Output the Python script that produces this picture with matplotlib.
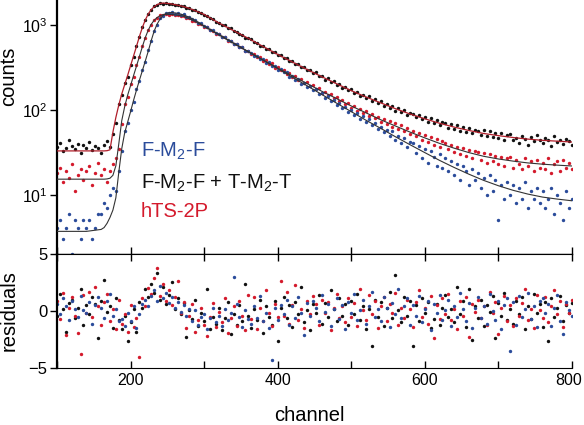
import numpy as np
import matplotlib
matplotlib.use('Agg')
import matplotlib.pyplot as plt
import matplotlib.transforms as mtransforms
from matplotlib.ticker import NullLocator, MultipleLocator, FixedLocator

plt.rcParams['font.family'] = ['Liberation Sans', 'DejaVu Sans']
plt.rcParams['mathtext.default'] = 'regular'

# data, every 4th channel (100..800)
channel = np.arange(100, 801, 4)

counts_blue = [
    4, 5, 3, 4, 6, 2, 5, 4, 3, 5, 4,
    5, 3, 4, 6, 6, 8, 7, 10, 12, 11, 19,
    33, 57, 70, 101, 124, 178, 219, 301, 371, 508, 648,
    871, 1019, 1214, 1296, 1402, 1391, 1447, 1384, 1418, 1342, 1351,
    1266, 1271, 1180, 1162, 1071, 1060, 975, 962, 890, 880, 811,
    798, 738, 731, 670, 664, 606, 603, 556, 551, 504, 498,
    478, 437, 441, 398, 402, 365, 368, 331, 336, 302, 304,
    279, 280, 249, 252, 228, 233, 206, 211, 189, 193, 172,
    176, 155, 158, 141, 146, 128, 131, 115, 122, 105, 110,
    95, 101, 87, 93, 79, 85, 72, 78, 66, 71, 60,
    64, 55, 59, 50, 56, 45, 50, 41, 47, 37, 42,
    41, 31, 38, 27, 35, 24, 33, 28, 22, 30, 21,
    27, 19, 25, 17, 23, 15, 22, 19, 13, 20, 15,
    18, 12, 16, 10, 17, 11, 15, 5, 13, 9, 14,
    10, 13, 8, 12, 9, 14, 7, 11, 9, 12, 8,
    11, 7, 9, 12, 6, 10, 8, 5, 11, 7, 9]

counts_black = [
    37, 41, 33, 36, 44, 38, 35, 40, 31, 39, 36,
    42, 34, 38, 36, 31, 39, 43, 37, 52, 70, 118,
    150, 209, 248, 342, 428, 578, 731, 962, 1148, 1380, 1521,
    1690, 1742, 1851, 1818, 1862, 1795, 1806, 1741, 1758, 1689, 1684,
    1611, 1602, 1518, 1509, 1428, 1412, 1331, 1310, 1221, 1196, 1108,
    1082, 1012, 1003, 931, 925, 851, 846, 788, 782, 721, 716,
    690, 636, 628, 580, 574, 531, 530, 488, 485, 448, 446,
    410, 412, 376, 379, 347, 351, 321, 323, 295, 299, 272,
    281, 250, 255, 230, 238, 214, 221, 200, 206, 183, 189,
    171, 176, 158, 165, 148, 153, 139, 145, 128, 136, 121,
    127, 113, 119, 105, 112, 99, 106, 94, 101, 88, 93,
    91, 82, 88, 78, 84, 73, 80, 70, 76, 66, 72,
    71, 62, 69, 60, 66, 57, 64, 55, 61, 53, 59,
    57, 51, 58, 49, 56, 48, 54, 47, 53, 45, 51,
    52, 44, 47, 41, 50, 46, 39, 48, 43, 51, 45,
    41, 47, 44, 38, 49, 42, 45, 40, 46, 43, 39]

counts_red = [
    18, 21, 14, 19, 16, 23, 11, 17, 20, 15, 19,
    22, 13, 18, 24, 17, 20, 14, 19, 23, 27, 35,
    68, 118, 142, 203, 249, 341, 422, 571, 708, 893, 1017,
    1168, 1221, 1318, 1329, 1371, 1340, 1362, 1318, 1337, 1291, 1302,
    1229, 1215, 1139, 1127, 1046, 1038, 958, 949, 876, 868, 799,
    790, 728, 723, 664, 660, 601, 604, 551, 553, 502, 501,
    462, 463, 420, 425, 381, 389, 350, 356, 318, 325, 294,
    298, 270, 274, 246, 252, 228, 232, 209, 214, 192, 196,
    176, 181, 160, 166, 149, 155, 138, 142, 127, 130, 118,
    121, 107, 113, 99, 104, 93, 98, 86, 91, 80, 84,
    73, 79, 69, 75, 64, 70, 60, 66, 56, 61, 52,
    57, 49, 54, 45, 51, 42, 48, 39, 46, 37, 43,
    41, 35, 39, 32, 37, 30, 36, 29, 34, 27, 33,
    32, 26, 31, 24, 30, 25, 29, 23, 28, 22, 27,
    28, 21, 26, 23, 20, 27, 22, 25, 19, 26, 21,
    24, 20, 27, 18, 23, 25, 19, 26, 21, 24, 20]

# fitted curves
fit_ch = [100, 140, 160, 164, 168, 172, 176, 180, 184, 188, 192, 196, 200, 204,
          208, 212, 216, 220, 224, 228, 232, 236, 240, 244, 248, 252, 256, 260,
          264, 268, 272, 280, 290, 300, 320, 340, 360, 380, 400, 420, 440, 460,
          480, 500, 520, 540, 560, 580, 600, 620, 640, 660, 680, 700, 720, 740,
          760, 780, 800]
fit_black = [33, 33, 33, 33, 33.2, 34, 55, 82, 115, 155, 200, 257, 335, 435,
             565, 740, 945, 1160, 1365, 1535, 1665, 1760, 1820, 1840, 1832, 1814, 1792, 1765,
             1738, 1707, 1672, 1592, 1470, 1350, 1070, 870, 705, 565, 455, 370, 302, 248,
             205, 170, 143, 122, 104, 90, 79, 70, 63, 57.5, 53, 50, 47.5, 45.5,
             44, 43, 42]
fit_blue = [3.7, 3.7, 3.9, 4.1, 4.6, 5.4, 6.6, 9.2, 18.5, 35, 54, 72, 96, 130,
            172, 225, 292, 380, 495, 660, 855, 1035, 1190, 1310, 1385, 1413, 1420, 1407,
            1393, 1363, 1330, 1250, 1120, 990, 785, 620, 490, 390, 310, 245, 194, 153,
            121, 96, 76, 61, 48.5, 39, 31.5, 25.5, 21, 17.5, 14.8, 12.8, 11.3, 10.2,
            9.4, 8.9, 8.5]
fit_red = [15.3, 15.3, 15.3, 15.3, 15.4, 15.7, 17, 22, 40, 75, 110, 150, 195, 255,
           330, 430, 560, 720, 880, 1030, 1150, 1240, 1300, 1340, 1355, 1355, 1348, 1337,
           1323, 1305, 1285, 1200, 1090, 975, 775, 615, 490, 392, 314, 254, 206, 167,
           137, 112, 93, 77, 65, 55, 47, 40.5, 35.5, 31.5, 28.5, 26.5, 25, 23.8,
           23, 22.4, 21.9]

# weighted residuals
res_blue = [
    0.6, -0.3, 1.1, 0.4, -0.8, 0.9, 0.2, -0.5, 1.3, 0.1, -0.2,
    0.8, -1.1, 0.5, 1.2, 0.3, -0.6, 0.9, 1.5, -0.4, 0.2, -0.9,
    -0.7, -1.3, -0.2, -0.9, 0.4, -1.5, -0.3, 0.6, 1.0, 0.4, 1.3,
    1.8, 0.9, 2.2, 1.1, 1.6, 0.7, 1.2, 0.3, 0.8, -0.1, 0.5,
    -0.4, 0.2, -0.9, 0.1, -1.2, -0.5, -0.3, -1.6, -0.6, 0.3, -1.0,
    -0.4, -1.3, 0.2, -0.8, -0.2, 3.0, 0.6, -0.5, -1.4, 0.1, -0.7,
    -1.1, 0.4, -0.6, 1.3, -0.9, -0.2, -1.5, -4.3, 0.3, -0.8, 0.5,
    -0.3, 1.0, -1.2, 0.4, -0.6, 1.2, -0.2, -2.1, 0.7, -0.4, 0.9,
    0.3, -0.9, 1.4, -0.1, 0.6, -1.3, 0.2, 1.1, -0.7, 0.5, -1.6,
    0.8, -0.2, 1.5, -0.8, 0.1, 1.0, -1.1, 0.4, 1.7, -0.5, 0.2,
    -0.9, 1.2, 0.3, -1.4, 0.7, -0.3, 1.9, -0.6, 0.4, 1.1, -1.2,
    0.5, -0.4, 1.3, -1.0, 0.2, 0.9, -1.7, 0.6, -0.2, 1.4, -0.8,
    0.1, 1.0, -1.3, 0.4, -0.5, 1.6, 0.2, -0.9, 0.7, -1.5, 0.3,
    1.2, -0.6, 0.4, -1.1, 1.5, 0.0, -0.8, 0.9, -1.6, 0.5, 1.1,
    -3.5, 0.8, -1.2, 1.3, -0.5, 0.2, 1.6, -0.7, 0.4, -1.4, 0.9,
    1.1, -0.2, 0.6, -1.3, 0.3, 1.4, -0.9, -2.0, 0.8, 0.1, -0.4]

res_black = [
    -0.4, 1.5, 0.2, -1.8, 0.7, 1.0, -0.6, 0.3, 1.9, -1.2, 0.5,
    -0.3, 1.2, 0.6, -2.4, 0.9, 2.7, -0.1, 0.4, -1.5, 1.1, -0.8,
    -1.6, -0.4, -2.6, -1.0, 0.2, -1.8, 0.8, 0.3, 1.9, 1.2, 2.4,
    1.6, 3.3, 1.0, 2.1, 0.6, 1.4, 2.5, 0.2, 1.1, -0.3, 0.7,
    -2.3, 0.1, -0.7, 1.0, -1.3, -0.2, -0.9, 1.9, -1.6, -0.5, -1.1,
    0.3, -1.7, -0.6, 0.8, -2.0, -0.3, -1.2, 0.5, -0.9, 2.4, -0.4,
    -1.5, 0.2, -0.8, 1.0, -1.9, 0.4, -0.5, -1.2, 0.9, -2.6, 0.3,
    1.2, -0.6, 0.5, -1.4, 0.8, -0.3, 2.1, -1.0, 0.1, -1.7, 0.6,
    -0.2, 1.4, -1.1, 0.7, -0.5, 1.8, 0.2, -0.9, 1.1, -0.4, 0.6,
    -1.2, 0.9, -0.3, 1.5, -0.8, 0.4, -1.6, 0.2, -3.1, 1.0, -0.5,
    0.8, -1.3, 0.3, 1.7, -0.6, 3.2, 0.1, -1.0, 1.2, -0.4, 0.9,
    -3.1, 0.5, -0.9, 1.1, -0.2, 0.8, -1.5, -0.7, 0.6, -1.2, 0.3,
    1.4, -0.5, 0.2, -1.0, 2.1, -0.3, 0.9, -1.4, 1.9, -2.5, 0.4,
    -0.6, 1.0, -1.3, 0.5, -0.1, 1.3, -2.4, 0.7, -0.4, 1.6, -0.8,
    0.2, -1.1, 0.9, -0.3, 1.2, -1.6, 0.4, -0.7, 1.5, -0.2, 0.6,
    -1.4, 0.8, -2.6, 1.1, -0.5, 0.3, 1.3, -0.9, 0.5, -0.2, 0.7]

res_red = [
    0.9, -0.7, 1.6, -2.1, 0.3, 1.2, -0.4, -1.9, -3.8, 1.4, -0.2,
    1.7, -0.5, 2.1, 0.4, -1.2, 0.8, 1.5, -0.9, 0.2, -1.6, 1.0,
    -1.1, -0.3, -1.8, 0.5, -1.4, -0.6, -4.0, 1.1, 0.4, 2.0, 1.5,
    2.9, 3.8, 1.3, 2.4, 0.9, 1.8, 0.5, 1.2, 2.6, -0.2, 0.8,
    -1.5, -0.4, 0.6, -1.8, -0.8, 0.3, -1.2, -2.2, -0.5, 0.7, -1.4,
    -0.1, -1.0, 1.1, -1.9, -0.6, 0.4, -1.3, 0.9, -0.4, -1.7, 1.4,
    -0.7, 1.2, -1.6, 0.3, -0.9, 1.8, -0.2, -1.3, 0.6, -0.5, 2.6,
    -0.4, 1.7, -1.1, 0.5, 2.3, -0.8, 0.2, -1.5, 0.9, -0.3, 1.3,
    0.6, -1.2, 1.0, -0.2, 0.8, -1.7, 0.3, 1.5, -0.6, 0.4, -1.0,
    1.1, -0.5, 0.7, -1.3, 1.9, 0.1, -0.8, 1.4, -0.3, 0.9, -1.5,
    0.4, 1.2, -0.9, 0.6, -0.2, 1.6, -1.2, 0.3, -0.6, 1.0, 0.2,
    -1.4, 0.8, 1.8, -0.5, 0.3, -1.1, 1.3, -2.4, 0.5, -0.7, 1.1,
    -0.3, 1.5, -0.8, 0.2, -1.6, 0.9, -0.4, 1.2, -2.3, 0.6, -0.1,
    1.0, -0.6, 0.4, -1.2, 1.7, -0.2, 0.8, -2.0, 0.3, 1.3, -0.9,
    0.5, -1.3, 1.1, -0.4, 0.7, 1.9, -0.8, 0.2, -1.5, 1.4, 0.1,
    -0.6, 1.2, -1.0, 0.4, 1.8, -0.3, 0.9, -1.4, 0.6, -0.2, 1.0]

blue = '#2b4c9b'
red = '#d41a2c'
black = '#111111'
dot = 6

fig = plt.figure(figsize=(5.84, 4.25), dpi=100)
ax = fig.add_axes([0.0976, 0.4024, 0.8818, 0.5976])
ax2 = fig.add_axes([0.0976, 0.1341, 0.8818, 0.2683])

# top panel
ax.scatter(channel, counts_black, s=dot, c=black, lw=0, zorder=2)
ax.scatter(channel, counts_red, s=dot, c=red, lw=0, zorder=2)
ax.scatter(channel, counts_blue, s=dot, c=blue, lw=0, zorder=2)
ax.plot(fit_ch, fit_black, color='#b01e2a', lw=0.9, zorder=3)
ax.plot(fit_ch, fit_red, color='#333333', lw=0.8, zorder=3)
ax.plot(fit_ch, fit_blue, color='#333333', lw=0.8, zorder=3)
ax.set_yscale('log')
ax.set_ylim(2, 2000)
ax.set_xlim(100, 800)
ax.yaxis.set_major_locator(FixedLocator([10, 100, 1000]))
ax.yaxis.set_minor_locator(NullLocator())
ax.set_yticklabels(['10$^1$', '10$^2$', '10$^3$'])
ax.xaxis.set_major_locator(MultipleLocator(100))
ax.tick_params(axis='x', direction='in', length=5, width=1, labelbottom=False)
ax.tick_params(axis='y', direction='out', length=5, width=1, labelsize=11.5, pad=2)
ax.spines['top'].set_visible(False)
ax.spines['right'].set_visible(False)
ax.spines['left'].set_linewidth(1.6)
ax.spines['bottom'].set_linewidth(1.0)
ax.set_ylabel('counts', fontsize=14.5)
ax.yaxis.set_label_coords(-0.075, 0.70)

fig.text(141/584, 1 - 157/425, 'F-M$_2$-F', color=blue, fontsize=14.5, va='baseline')
fig.text(141/584, 1 - 189/425, 'F-M$_2$-F + T-M$_2$-T', color=black, fontsize=14.5, va='baseline')
fig.text(141/584, 1 - 217/425, 'hTS-2P', color=red, fontsize=14.5, va='baseline')

# residuals
ax2.scatter(channel, res_black, s=dot, c=black, lw=0)
ax2.scatter(channel, res_red, s=dot, c=red, lw=0)
ax2.scatter(channel, res_blue, s=dot, c=blue, lw=0)
ax2.set_xlim(100, 800)
ax2.set_ylim(-5, 5)
ax2.set_yticks([-5, 0, 5])
ax2.xaxis.set_major_locator(FixedLocator([200, 400, 600, 800]))
ax2.xaxis.set_minor_locator(FixedLocator([100, 300, 500, 700]))
ax2.tick_params(axis='x', which='both', direction='in', length=5, width=1, top=True, labelsize=11.5)
ax2.tick_params(axis='y', direction='out', length=5, width=1, labelsize=12, pad=2)
ax2.spines['right'].set_visible(False)
ax2.spines['left'].set_linewidth(1.6)
ax2.set_ylabel('residuals', fontsize=14.5)
ax2.yaxis.set_label_coords(-0.075, 0.5)
ax2.set_xlabel('channel', fontsize=14.5)
ax2.xaxis.set_label_coords(0.49, -0.335)

# keep the last tick label inside the canvas
fig.canvas.draw()
last = ax2.get_xticklabels()[-1]
last.set_transform(last.get_transform() + mtransforms.ScaledTranslation(-3/100, 0, fig.dpi_scale_trans))

fig.savefig('out.png', dpi=100)
